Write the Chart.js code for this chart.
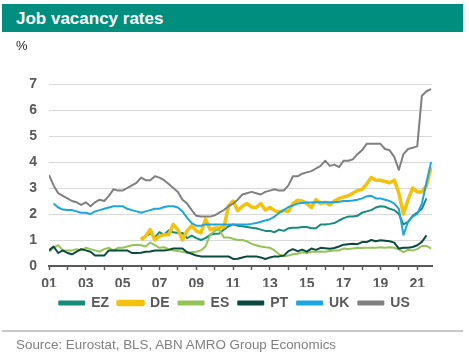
<!DOCTYPE html>
<html>
<head>
<meta charset="utf-8">
<script src="https://cdn.jsdelivr.net/npm/chart.js@4"></script>
<style>
  html, body { margin: 0; padding: 0; background: #fff; }
  body { width: 469px; height: 356px; position: relative; overflow: hidden; font-family: "Liberation Sans", Arial, sans-serif; }
  #wrap { position: absolute; left: 0; top: 0; width: 469px; height: 356px; }
  #title { position: absolute; left: 2px; top: 4px; width: 461px; height: 28px; background: #008E7E; color: #fff;
           font-weight: bold; font-size: 17px; line-height: 28px; padding-left: 14px; box-sizing: border-box; padding-top: 1px; }
  #unit { position: absolute; left: 16px; top: 38px; font-size: 13px; color: #222; }
  #sep { position: absolute; left: 2px; top: 330px; width: 461px; height: 2px; background: #c8c8c8; }
  #source { position: absolute; left: 16px; top: 337px; font-size: 13.4px; color: #808080; }
</style>
</head>
<body>
<div id="wrap"><canvas id="c" width="469" height="356"></canvas></div>
<div id="title">Job vacancy rates</div>
<div id="unit">%</div>
<div id="sep"></div>
<div id="source">Source: Eurostat, BLS, ABN AMRO Group Economics</div>
<script>
// Quarterly observations, 2001Q1 .. 2021Q4 (null = no data)
const firstYear = 2001;
const seriesNames = ['EZ', 'DE', 'ES', 'PT', 'UK', 'US'];

const EZ = [
  null, null, null, null,  null, null, null, null,  null, null, null, null,  null, null, null, null,  null, null, null, null,
  1.05, 1.15, 1.25, 1.10,  1.30, 1.20, 1.37, 1.30,  1.27, 1.27, 1.07, 1.17,  1.07, 1.00, 1.07, 1.20,
  1.24, 1.25, 1.40, 1.53,  1.60, 1.55, 1.53, 1.50,  1.47, 1.45, 1.40, 1.35,  1.35, 1.30, 1.40, 1.35,
  1.45, 1.47, 1.47, 1.50,  1.50, 1.45, 1.45, 1.60,  1.60, 1.62, 1.65, 1.75,  1.84, 1.90, 1.90, 1.93,
  2.05, 2.10, 2.15, 2.25,  2.30, 2.28, 2.20, 2.15,  2.00, 1.60, 1.70, 1.93,  2.05, 2.20, 2.60, null
];
const DE = [
  null, null, null, null,  null, null, null, null,  null, null, null, null,  null, null, null, null,  null, null, null, null,
  1.00, 1.15, 1.40, 1.00,  1.15, 1.20, 1.20, 1.60,  1.40, 1.00, 1.35, 1.55,  1.35, 1.27, 1.80, 1.40,
  1.45, 1.47, 1.50, 2.30,  2.50, 2.13, 2.30, 2.40,  2.27, 2.25, 2.40, 2.15,  2.25, 2.13, 2.07, 2.13,
  2.10, 2.40, 2.53, 2.50,  2.40, 2.25, 2.55, 2.40,  2.45, 2.35, 2.50, 2.60,  2.65, 2.70, 2.80, 2.90,
  2.95, 3.15, 3.40, 3.30,  3.30, 3.25, 3.20, 3.30,  2.80, 2.00, 2.55, 3.00,  2.85, 2.85, 3.10, 3.80
];
const ES = [
  0.55, 0.70, 0.80, 0.60,  0.60, 0.60, 0.65, 0.60,  0.70, 0.65, 0.60, 0.55,  0.65, 0.70, 0.60, 0.70,  0.70, 0.75, 0.80, 0.82,
  0.80, 0.75, 0.90, 0.80,  0.70, 0.72, 0.65, 0.60,  0.58, 0.55, 0.51, 0.53,  0.55, 0.60, 0.75, 1.20,
  1.35, 1.40, 1.10, 1.10,  1.05, 1.00, 1.00, 0.95,  0.85, 0.80, 0.75, 0.72,  0.70, 0.60, 0.45, 0.37,
  0.40, 0.45, 0.47, 0.53,  0.50, 0.55, 0.55, 0.56,  0.55, 0.58, 0.60, 0.60,  0.67, 0.65, 0.67, 0.70,
  0.69, 0.70, 0.70, 0.70,  0.72, 0.70, 0.72, 0.70,  0.64, 0.53, 0.62, 0.60,  0.65, 0.77, 0.77, 0.67
];
const PT = [
  0.60, 0.75, 0.50, 0.60,  0.50, 0.45, 0.55, 0.65,  0.60, 0.55, 0.40, 0.40,  0.40, 0.60, 0.60, 0.60,  0.60, 0.60, 0.50, 0.50,
  0.51, 0.55, 0.56, 0.60,  0.60, 0.60, 0.62, 0.67,  0.67, 0.67, 0.53, 0.47,  0.40, 0.37, 0.37, 0.37,
  0.37, 0.37, 0.37, 0.37,  0.27, 0.28, 0.33, 0.37,  0.37, 0.37, 0.33, 0.27,  0.33, 0.37, 0.37, 0.40,
  0.57, 0.65, 0.57, 0.63,  0.55, 0.67, 0.62, 0.70,  0.68, 0.66, 0.69, 0.75,  0.82, 0.84, 0.86, 0.84,
  0.92, 0.92, 1.00, 0.95,  0.99, 0.97, 0.95, 0.90,  0.67, 0.70, 0.70, 0.73,  0.80, 0.93, 1.18, null
];
const UK = [
  null, 2.40, 2.25, 2.17,  2.15, 2.15, 2.10, 2.05,  2.05, 2.00, 2.10, 2.15,  2.20, 2.25, 2.30, 2.30,  2.30, 2.20, 2.15, 2.10,
  2.05, 2.10, 2.15, 2.20,  2.20, 2.27, 2.30, 2.30,  2.25, 2.10, 1.85, 1.65,  1.55, 1.55, 1.60, 1.60,
  1.60, 1.60, 1.60, 1.60,  1.60, 1.60, 1.60, 1.60,  1.62, 1.65, 1.70, 1.75,  1.80, 1.90, 2.05, 2.15,
  2.27, 2.33, 2.40, 2.42,  2.44, 2.44, 2.45, 2.45,  2.45, 2.45, 2.45, 2.47,  2.50, 2.50, 2.52, 2.55,
  2.60, 2.68, 2.70, 2.60,  2.60, 2.55, 2.50, 2.40,  2.20, 1.20, 1.70, 1.90,  2.00, 2.40, 3.20, 4.00
];
const US = [
  3.50, 3.10, 2.80, 2.70,  2.60, 2.50, 2.45, 2.35,  2.45, 2.30, 2.45, 2.55,  2.50, 2.70, 2.95, 2.90,  2.90, 3.00, 3.10, 3.20,
  3.40, 3.30, 3.30, 3.45,  3.40, 3.30, 3.15, 3.00,  2.85, 2.55, 2.40, 2.15,  1.93, 1.90, 1.90, 1.90,
  1.95, 2.05, 2.15, 2.30,  2.40, 2.55, 2.75, 2.80,  2.85, 2.80, 2.75, 2.85,  2.90, 2.95, 2.90, 2.90,
  3.10, 3.45, 3.45, 3.55,  3.60, 3.65, 3.75, 3.85,  4.05, 3.85, 3.90, 3.80,  4.05, 4.05, 4.10, 4.30,
  4.45, 4.70, 4.70, 4.70,  4.70, 4.50, 4.45, 4.20,  3.70, 4.30, 4.50, 4.55,  4.60, 6.55, 6.72, 6.80
];

const yTicks = [0, 1, 2, 3, 4, 5, 6, 7];

const colors = {
  EZ: '#168C7B', DE: '#F3C10E', ES: '#94C456', PT: '#0B4A3E', UK: '#1CA6DF', US: '#808080'
};
const widths = { EZ: 2, DE: 3.5, ES: 2, PT: 2, UK: 2, US: 2 };
const values = { EZ, DE, ES, PT, UK, US };

function toPoints(arr) {
  return arr.map((v, i) => ({ x: firstYear + i / 4, y: v }));
}

const datasets = seriesNames.map((name, k) => ({
  label: name,
  data: toPoints(values[name]),
  borderColor: colors[name],
  backgroundColor: colors[name],
  borderWidth: widths[name],
  pointRadius: 0,
  tension: 0,
  spanGaps: false,
  borderJoinStyle: 'round',
  order: seriesNames.length - k
}));

const FONT = "'Liberation Sans', Arial, sans-serif";
const AXIS = '#595959';

new Chart(document.getElementById('c'), {
  type: 'line',
  data: { datasets },
  options: {
    responsive: false,
    animation: false,
    events: [],
    layout: { padding: { top: 84, bottom: 36, left: 0, right: 0 } },
    plugins: {
      legend: {
        position: 'bottom',
        labels: {
          boxWidth: 25, boxHeight: 3, padding: 9,
          color: AXIS,
          font: { family: FONT, size: 14, weight: 'bold' },
          sort: (a, b) => a.datasetIndex - b.datasetIndex
        }
      },
      tooltip: { enabled: false },
      title: { display: false }
    },
    scales: {
      x: {
        type: 'linear',
        min: 2001,
        max: 2021.8,
        afterFit: (s) => { s.height = 21; },
        border: { display: true, color: AXIS, width: 2 },
        grid: { display: true, drawOnChartArea: false, drawTicks: true, tickLength: 4, tickColor: AXIS, tickWidth: 1.5 },
        ticks: {
          stepSize: 1,
          autoSkip: false,
          includeBounds: false,
          maxRotation: 0,
          padding: 6,
          color: AXIS,
          font: { family: FONT, size: 14, weight: 'bold' },
          callback: (v) => ((v - firstYear) % 2 === 0 ? String(v % 100).padStart(2, '0') : '')
        }
      },
      y: {
        min: 0,
        max: 7,
        afterFit: (s) => { s.width = 49; },
        border: { display: false },
        grid: { color: '#d9d9d9', lineWidth: 1, drawTicks: false },
        afterBuildTicks: (s) => { s.ticks = yTicks.map(v => ({ value: v })); },
        ticks: {
          padding: 12,
          color: AXIS,
          font: { family: FONT, size: 14, weight: 'bold' }
        }
      },
      y2: {
        position: 'right',
        display: true,
        afterFit: (s) => { s.width = 37; },
        border: { display: false },
        grid: { display: false, drawTicks: false },
        ticks: { display: false }
      }
    }
  }
});
</script>
</body>
</html>
